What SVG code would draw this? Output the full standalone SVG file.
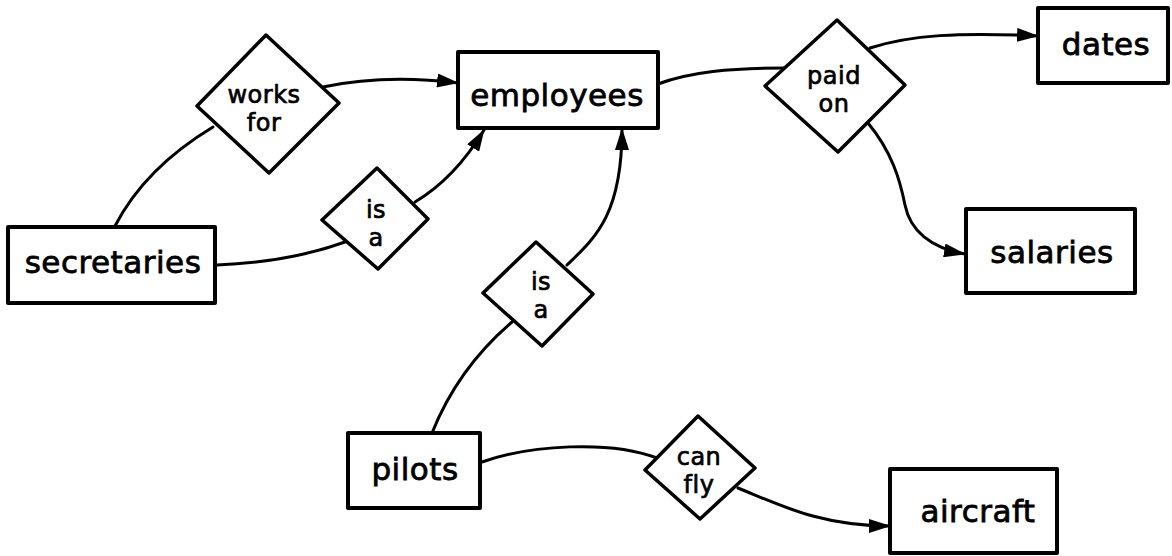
<svg xmlns="http://www.w3.org/2000/svg" width="1172" height="556" viewBox="0 0 1172 556">
  <style>
    .box { fill: #fff; stroke: #000; stroke-width: 4; stroke-linejoin: round; }
    .rel { fill: #fff; stroke: #000; stroke-width: 3.5; stroke-linejoin: round; }
    .lbl { font-family: "DejaVu Sans", "Liberation Sans", sans-serif; font-size: 31px; fill: #000; stroke: #000; stroke-width: 0.8; text-anchor: middle; letter-spacing: 0.5px; }
    .rlbl { font-family: "DejaVu Sans", "Liberation Sans", sans-serif; font-size: 24px; fill: #000; stroke: #000; stroke-width: 0.7; text-anchor: middle; letter-spacing: 0.5px; }
    .edge { fill: none; stroke: #000; stroke-width: 3; stroke-linecap: round; }
    .arr { marker-end: url(#head); }
  </style>
  <defs>
    <marker id="head" markerUnits="userSpaceOnUse" markerWidth="22" markerHeight="14" refX="21" refY="7" orient="auto">
      <path d="M0,0 L22,7 L0,14 z" fill="#000"/>
    </marker>
  </defs>
  <rect width="1172" height="556" fill="#fff"/>

  <!-- connectors -->
  <g id="connectors">
    <path class="edge" d="M115,226 Q145,168 213,127"/>
    <path class="edge arr" d="M323,87 Q385,74 458,83"/>
    <path class="edge" d="M217,265 Q290,262 345,242"/>
    <path class="edge arr" d="M415,202 Q455,178 484,130"/>
    <path class="edge arr" d="M567,265 C595,238 622,215 622,129"/>
    <path class="edge" d="M432,433 Q458,368 512,322"/>
    <path class="edge" d="M482,462 C530,445 610,440 657,458"/>
    <path class="edge arr" d="M738,488 C780,505 820,526 890,526"/>
    <path class="edge" d="M658,84 C690,72 730,68 785,68"/>
    <path class="edge arr" d="M870,48 C910,35 960,32 1038,36"/>
    <path class="edge arr" d="M868,123 C892,152 900,180 905,205 S930,248 965,254"/>
  </g>

  <!-- entity boxes -->
  <g id="employees">
    <rect class="box" x="458" y="52" width="200" height="76"/>
    <text class="lbl" x="557" y="106">employees</text>
  </g>
  <g id="dates">
    <rect class="box" x="1038" y="8" width="130" height="75"/>
    <text class="lbl" x="1106" y="55">dates</text>
  </g>
  <g id="secretaries">
    <rect class="box" x="8" y="227" width="207" height="76"/>
    <text class="lbl" x="113" y="273">secretaries</text>
  </g>
  <g id="salaries">
    <rect class="box" x="966" y="209" width="169" height="84"/>
    <text class="lbl" x="1052" y="263">salaries</text>
  </g>
  <g id="pilots">
    <rect class="box" x="348" y="433" width="132" height="75"/>
    <text class="lbl" x="415" y="480">pilots</text>
  </g>
  <g id="aircraft">
    <rect class="box" x="890" y="469" width="167" height="84"/>
    <text class="lbl" x="978" y="522">aircraft</text>
  </g>

  <!-- relationship diamonds, two-line labels -->
  <g id="works-for">
    <polygon class="rel" points="266,35 339,103 269,173 197,106"/>
    <text class="rlbl" x="264" y="103">works<tspan x="264" dy="28">for</tspan></text>
  </g>
  <g id="paid-on">
    <polygon class="rel" points="837,20 905,85 838,152 765,86"/>
    <text class="rlbl" x="834" y="84">paid<tspan x="834" dy="28">on</tspan></text>
  </g>
  <g id="is-a-secretaries">
    <polygon class="rel" points="377,168 428,219 378,269 322,220"/>
    <text class="rlbl" x="376" y="218">is<tspan x="376" dy="28">a</tspan></text>
  </g>
  <g id="is-a-pilots">
    <polygon class="rel" points="536,242 593,294 542,346 483,293"/>
    <text class="rlbl" x="541" y="290">is<tspan x="541" dy="28">a</tspan></text>
  </g>
  <g id="can-fly">
    <polygon class="rel" points="698,416 755,468 700,519 645,470"/>
    <text class="rlbl" x="699" y="465">can<tspan x="699" dy="28">fly</tspan></text>
  </g>
</svg>
